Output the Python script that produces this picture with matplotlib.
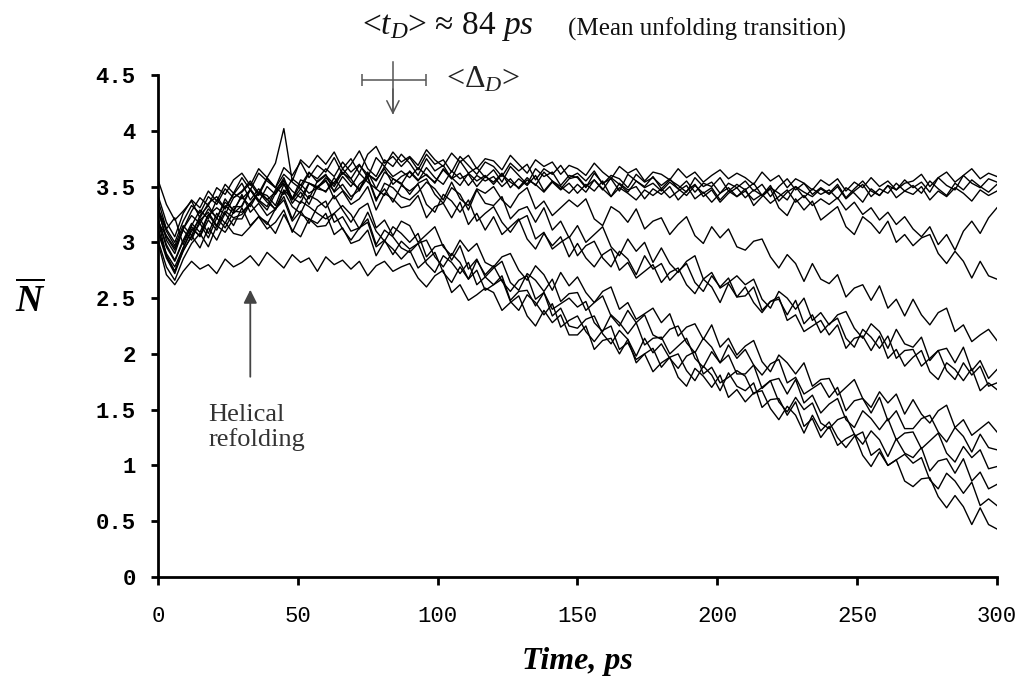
import numpy as np
import matplotlib
matplotlib.use('Agg')
import matplotlib.pyplot as plt

plt.rcParams['mathtext.fontset'] = 'custom'
plt.rcParams['mathtext.rm'] = 'Liberation Serif'
plt.rcParams['mathtext.it'] = 'Liberation Serif:italic'
plt.rcParams['mathtext.bf'] = 'Liberation Serif:bold'
plt.rcParams['mathtext.bfit'] = 'Liberation Serif:italic:bold'

# time axis, one point every 3 ps (101 points)
time_ps = np.arange(0, 301, 3)

# trajectories of N-bar
traj_a1 = [3.42, 3.18, 3.05, 3.26, 3.38, 3.31, 3.46, 3.37, 3.52, 3.44,
           3.58, 3.47, 3.62, 3.55, 3.49, 3.67, 3.60, 3.72, 3.58, 3.69,
           3.63, 3.76, 3.61, 3.70, 3.82, 3.66, 3.59, 3.74, 3.68, 3.79,
           3.71, 3.60, 3.75, 3.64, 3.69, 3.57, 3.73, 3.62, 3.67, 3.58,
           3.65, 3.54, 3.68, 3.60, 3.52, 3.66, 3.59, 3.63, 3.51, 3.60,
           3.58, 3.49, 3.62, 3.53, 3.57, 3.46, 3.61, 3.55, 3.50, 3.59,
           3.48, 3.56, 3.51, 3.45, 3.58, 3.50, 3.54, 3.44, 3.53, 3.49,
           3.55, 3.46, 3.52, 3.41, 3.50, 3.57, 3.47, 3.53, 3.43, 3.49,
           3.44, 3.52, 3.40, 3.48, 3.55, 3.46, 3.42, 3.51, 3.47, 3.56,
           3.49, 3.54, 3.45, 3.58, 3.51, 3.47, 3.60, 3.53, 3.49, 3.57, 3.54]
traj_a2 = [3.30, 3.02, 2.90, 3.12, 3.28, 3.40, 3.33, 3.49, 3.43, 3.56,
           3.62, 3.51, 3.66, 3.58, 3.71, 4.02, 3.55, 3.74, 3.67, 3.78,
           3.70, 3.81, 3.66, 3.75, 3.62, 3.79, 3.86, 3.71, 3.77, 3.68,
           3.76, 3.65, 3.79, 3.70, 3.74, 3.63, 3.77, 3.69, 3.61, 3.72,
           3.68, 3.59, 3.71, 3.64, 3.70, 3.56, 3.66, 3.61, 3.69, 3.58,
           3.62, 3.55, 3.64, 3.52, 3.60, 3.57, 3.49, 3.61, 3.54, 3.58,
           3.51, 3.57, 3.48, 3.55, 3.45, 3.53, 3.50, 3.58, 3.46, 3.52,
           3.47, 3.53, 3.42, 3.49, 3.44, 3.38, 3.50, 3.45, 3.41, 3.48,
           3.43, 3.50, 3.39, 3.46, 3.52, 3.41, 3.48, 3.44, 3.53, 3.46,
           3.51, 3.44, 3.55, 3.48, 3.42, 3.53, 3.47, 3.56, 3.50, 3.45, 3.52]
traj_a3 = [3.56, 3.34, 3.20, 3.28, 3.37, 3.22, 3.35, 3.41, 3.30, 3.44,
           3.39, 3.47, 3.36, 3.50, 3.43, 3.55, 3.46, 3.40, 3.53, 3.49,
           3.58, 3.50, 3.63, 3.54, 3.48, 3.61, 3.56, 3.66, 3.52, 3.59,
           3.63, 3.55, 3.67, 3.58, 3.52, 3.64, 3.57, 3.61, 3.50, 3.59,
           3.54, 3.62, 3.49, 3.57, 3.51, 3.60, 3.46, 3.55, 3.50, 3.44,
           3.52, 3.45, 3.56, 3.48, 3.41, 3.53, 3.47, 3.50, 3.39, 3.48,
           3.43, 3.50, 3.38, 3.46, 3.52, 3.41, 3.47, 3.36, 3.44, 3.49,
           3.40, 3.47, 3.42, 3.51, 3.37, 3.45, 3.50, 3.40, 3.48, 3.43,
           3.47, 3.39, 3.49, 3.44, 3.36, 3.48, 3.42, 3.51, 3.40, 3.46,
           3.43, 3.50, 3.38, 3.46, 3.41, 3.49, 3.44, 3.37, 3.47, 3.42, 3.46]
traj_a4 = [3.20, 2.88, 2.74, 2.95, 3.12, 3.06, 3.24, 3.31, 3.25, 3.40,
           3.45, 3.53, 3.42, 3.57, 3.49, 3.61, 3.54, 3.48, 3.62, 3.57,
           3.66, 3.59, 3.72, 3.63, 3.70, 3.58, 3.76, 3.68, 3.81, 3.72,
           3.77, 3.69, 3.83, 3.74, 3.68, 3.80, 3.72, 3.78, 3.66, 3.75,
           3.73, 3.65, 3.78, 3.70, 3.62, 3.74, 3.68, 3.72, 3.61, 3.69,
           3.66, 3.60, 3.71, 3.63, 3.57, 3.68, 3.62, 3.66, 3.55, 3.63,
           3.61, 3.56, 3.66, 3.58, 3.63, 3.54, 3.60, 3.65, 3.57, 3.62,
           3.58, 3.52, 3.63, 3.55, 3.60, 3.49, 3.57, 3.53, 3.47, 3.56,
           3.51, 3.57, 3.46, 3.54, 3.49, 3.58, 3.50, 3.55, 3.47, 3.53,
           3.55, 3.61, 3.50, 3.58, 3.63, 3.54, 3.60, 3.66, 3.57, 3.62, 3.59]
traj_b1 = [3.28, 3.05, 2.93, 3.12, 3.24, 3.17, 3.30, 3.22, 3.36, 3.29,
           3.41, 3.32, 3.45, 3.36, 3.30, 3.47, 3.39, 3.52, 3.44, 3.49,
           3.55, 3.46, 3.59, 3.50, 3.62, 3.54, 3.48, 3.63, 3.57, 3.52,
           3.64, 3.56, 3.61, 3.53, 3.66, 3.58, 3.51, 3.62, 3.55, 3.60,
           3.52, 3.61, 3.54, 3.49, 3.58, 3.51, 3.63, 3.55, 3.48, 3.57,
           3.59, 3.50, 3.56, 3.47, 3.58, 3.52, 3.45, 3.55, 3.49, 3.53,
           3.46, 3.54, 3.48, 3.42, 3.51, 3.44, 3.49, 3.38, 3.46, 3.41,
           3.48, 3.33, 3.41, 3.48, 3.31, 3.24, 3.39, 3.29, 3.37, 3.20,
           3.26, 3.32, 3.14, 3.07, 3.23, 3.17, 3.08, 3.19, 3.00, 3.07,
           2.97, 3.04, 3.07, 2.90, 2.81, 2.92, 2.83, 2.68, 2.83, 2.70, 2.67]
traj_b2 = [3.38, 3.12, 3.00, 3.19, 3.33, 3.26, 3.41, 3.34, 3.48, 3.40,
           3.46, 3.55, 3.44, 3.58, 3.49, 3.43, 3.57, 3.51, 3.63, 3.54,
           3.60, 3.52, 3.66, 3.57, 3.69, 3.61, 3.55, 3.68, 3.59, 3.64,
           3.58, 3.67, 3.60, 3.54, 3.65, 3.57, 3.62, 3.51, 3.60, 3.55,
           3.59, 3.50, 3.57, 3.48, 3.56, 3.52, 3.45, 3.54, 3.47, 3.53,
           3.44, 3.52, 3.46, 3.55, 3.41, 3.49, 3.44, 3.38, 3.47, 3.42,
           3.48, 3.40, 3.46, 3.51, 3.39, 3.45, 3.36, 3.44, 3.49, 3.41,
           3.46, 3.38, 3.43, 3.35, 3.41, 3.47, 3.36, 3.42, 3.33, 3.39,
           3.34, 3.40, 3.29, 3.36, 3.25, 3.31, 3.20, 3.27, 3.16, 3.23,
           3.12, 3.05, 3.14, 2.98, 3.07, 2.93, 3.10, 3.19, 3.08, 3.22, 3.31]
traj_c = [3.18, 3.06, 2.95, 3.11, 3.02, 3.20, 3.27, 3.15, 3.33, 3.26,
          3.33, 3.48, 3.38, 3.32, 3.47, 3.56, 3.38, 3.48, 3.39, 3.55,
          3.61, 3.45, 3.52, 3.41, 3.47, 3.58, 3.37, 3.53, 3.49, 3.41,
          3.38, 3.45, 3.54, 3.48, 3.38, 3.54, 3.39, 3.33, 3.48, 3.44,
          3.50, 3.38, 3.31, 3.43, 3.49, 3.30, 3.37, 3.24, 3.31, 3.38,
          3.32, 3.39, 3.21, 3.15, 3.32, 3.27, 3.18, 3.30, 3.12, 3.19,
          3.22, 3.07, 3.16, 3.23, 3.06, 2.99, 3.14, 3.04, 3.12, 2.96,
          2.93, 3.01, 3.03, 2.87, 2.77, 2.89, 2.81, 2.65, 2.81, 2.67,
          2.63, 2.71, 2.51, 2.59, 2.62, 2.48, 2.61, 2.41, 2.49, 2.34,
          2.49, 2.35, 2.26, 2.37, 2.41, 2.20, 2.26, 2.11, 2.17, 2.22, 2.12]
traj_d1 = [3.31, 3.12, 3.22, 2.98, 3.15, 3.29, 3.21, 3.38, 3.30, 3.43,
           3.53, 3.38, 3.48, 3.38, 3.45, 3.58, 3.39, 3.56, 3.53, 3.48,
           3.46, 3.54, 3.62, 3.57, 3.46, 3.63, 3.48, 3.42, 3.57, 3.53,
           3.43, 3.53, 3.57, 3.43, 3.35, 3.49, 3.43, 3.29, 3.47, 3.35,
           3.33, 3.41, 3.21, 3.29, 3.32, 3.18, 3.31, 3.11, 3.19, 3.04,
           3.15, 3.00, 3.07, 3.14, 2.96, 2.88, 3.03, 2.92, 3.00, 2.82,
           2.95, 2.81, 2.73, 2.83, 2.88, 2.67, 2.73, 2.59, 2.64, 2.70,
           2.62, 2.67, 2.49, 2.41, 2.56, 2.50, 2.40, 2.50, 2.30, 2.37,
           2.26, 2.35, 2.38, 2.23, 2.14, 2.27, 2.20, 2.05, 2.22, 2.09,
           2.06, 2.15, 1.94, 2.03, 2.05, 1.92, 2.06, 1.85, 1.94, 1.78, 1.86]
traj_d2 = [3.21, 2.98, 2.84, 3.02, 3.17, 3.09, 3.25, 3.14, 3.28, 3.22,
           3.25, 3.35, 3.45, 3.42, 3.33, 3.52, 3.40, 3.35, 3.53, 3.50,
           3.45, 3.58, 3.47, 3.38, 3.52, 3.59, 3.39, 3.48, 3.36, 3.51,
           3.46, 3.52, 3.34, 3.27, 3.43, 3.37, 3.27, 3.38, 3.19, 3.26,
           3.32, 3.18, 3.09, 3.20, 3.24, 3.03, 3.09, 2.94, 3.00, 3.05,
           2.88, 2.97, 3.01, 2.86, 2.78, 2.92, 2.85, 2.71, 2.88, 2.76,
           2.81, 2.66, 2.74, 2.81, 2.64, 2.56, 2.70, 2.60, 2.68, 2.51,
           2.52, 2.60, 2.39, 2.47, 2.49, 2.35, 2.48, 2.27, 2.35, 2.19,
           2.27, 2.32, 2.14, 2.06, 2.22, 2.15, 2.05, 2.16, 1.96, 2.03,
           2.04, 1.89, 1.96, 2.03, 1.85, 1.77, 1.92, 1.81, 1.89, 1.71, 1.74]
traj_d3 = [3.12, 2.90, 2.78, 2.95, 3.10, 3.21, 3.08, 3.26, 3.17, 3.32,
           3.32, 3.47, 3.37, 3.29, 3.44, 3.53, 3.35, 3.45, 3.34, 3.50,
           3.56, 3.39, 3.46, 3.34, 3.39, 3.50, 3.29, 3.44, 3.39, 3.31,
           3.33, 3.42, 3.22, 3.32, 3.35, 3.22, 3.36, 3.16, 3.26, 3.11,
           3.23, 3.07, 3.14, 3.21, 3.03, 2.94, 3.08, 2.97, 3.05, 2.87,
           2.99, 2.86, 2.78, 2.89, 2.94, 2.75, 2.82, 2.68, 2.74, 2.80,
           2.64, 2.73, 2.77, 2.62, 2.54, 2.67, 2.60, 2.46, 2.63, 2.51,
           2.60, 2.46, 2.37, 2.47, 2.51, 2.30, 2.35, 2.20, 2.25, 2.30,
           2.17, 2.26, 2.05, 2.14, 2.16, 2.03, 2.16, 1.96, 2.04, 1.89,
           1.97, 2.03, 1.84, 1.77, 1.92, 1.86, 1.76, 1.87, 1.67, 1.74, 1.68]
traj_e1 = [3.29, 3.10, 2.97, 3.15, 3.06, 3.24, 3.33, 3.21, 3.39, 3.28,
           3.27, 3.35, 3.44, 3.39, 3.29, 3.46, 3.32, 3.26, 3.42, 3.38,
           3.31, 3.42, 3.29, 3.18, 3.30, 3.35, 3.13, 3.20, 3.06, 3.19,
           3.15, 3.00, 3.07, 3.14, 2.96, 2.88, 3.02, 2.92, 2.99, 2.82,
           2.78, 2.87, 2.90, 2.75, 2.66, 2.79, 2.71, 2.57, 2.73, 2.61,
           2.69, 2.55, 2.46, 2.56, 2.60, 2.40, 2.46, 2.31, 2.36, 2.41,
           2.28, 2.36, 2.16, 2.24, 2.27, 2.13, 2.26, 2.06, 2.14, 1.99,
           2.07, 2.12, 1.93, 1.84, 1.99, 1.92, 1.82, 1.92, 1.71, 1.77,
           1.78, 1.63, 1.70, 1.77, 1.60, 1.52, 1.66, 1.56, 1.64, 1.46,
           1.59, 1.46, 1.38, 1.49, 1.54, 1.34, 1.41, 1.27, 1.33, 1.39, 1.30]
traj_e2 = [3.09, 2.86, 2.72, 2.93, 3.05, 3.17, 3.04, 3.22, 3.13, 3.27,
           3.43, 3.27, 3.35, 3.24, 3.30, 3.41, 3.21, 3.37, 3.32, 3.26,
           3.21, 3.26, 3.33, 3.25, 3.12, 3.27, 3.10, 3.01, 3.14, 3.08,
           3.00, 3.08, 2.87, 2.96, 2.98, 2.84, 2.97, 2.76, 2.85, 2.69,
           2.77, 2.83, 2.64, 2.57, 2.72, 2.66, 2.56, 2.67, 2.47, 2.54,
           2.55, 2.39, 2.46, 2.52, 2.34, 2.25, 2.39, 2.28, 2.35, 2.17,
           2.13, 2.22, 2.25, 2.10, 2.01, 2.14, 2.06, 1.92, 2.08, 1.96,
           2.04, 1.90, 1.81, 1.91, 1.95, 1.74, 1.79, 1.64, 1.69, 1.74,
           1.61, 1.70, 1.49, 1.58, 1.60, 1.47, 1.61, 1.40, 1.49, 1.33,
           1.33, 1.42, 1.45, 1.30, 1.21, 1.34, 1.26, 1.12, 1.28, 1.16, 1.14]
traj_e3 = [3.02, 2.78, 2.66, 2.85, 2.99, 3.08, 2.96, 3.15, 3.09, 3.21,
           3.21, 3.35, 3.24, 3.16, 3.30, 3.38, 3.19, 3.28, 3.17, 3.32,
           3.37, 3.18, 3.23, 3.10, 3.13, 3.21, 2.98, 3.11, 3.05, 2.95,
           2.91, 2.99, 3.02, 2.87, 2.78, 2.90, 2.82, 2.67, 2.84, 2.71,
           2.79, 2.65, 2.56, 2.66, 2.70, 2.49, 2.55, 2.40, 2.45, 2.50,
           2.42, 2.47, 2.28, 2.20, 2.35, 2.28, 2.18, 2.28, 2.08, 2.14,
           2.15, 2.00, 2.07, 2.14, 1.96, 1.88, 2.02, 1.92, 1.99, 1.82,
           1.82, 1.90, 1.69, 1.76, 1.78, 1.64, 1.77, 1.56, 1.63, 1.47,
           1.55, 1.60, 1.41, 1.34, 1.49, 1.42, 1.32, 1.42, 1.23, 1.29,
           1.30, 1.15, 1.22, 1.29, 1.11, 1.03, 1.17, 1.07, 1.14, 0.97, 0.99]
traj_e4 = [3.21, 2.96, 2.83, 3.01, 3.14, 3.05, 3.20, 3.11, 3.26, 3.15,
           3.31, 3.15, 3.23, 3.12, 3.18, 3.29, 3.09, 3.25, 3.21, 3.14,
           3.15, 3.26, 3.12, 3.02, 3.13, 3.18, 2.96, 3.02, 2.89, 3.01,
           2.94, 2.99, 2.81, 2.73, 2.88, 2.82, 2.72, 2.82, 2.62, 2.69,
           2.62, 2.70, 2.48, 2.56, 2.57, 2.43, 2.55, 2.34, 2.41, 2.25,
           2.23, 2.31, 2.34, 2.18, 2.09, 2.21, 2.13, 1.98, 2.14, 2.01,
           2.09, 1.96, 1.87, 1.98, 2.02, 1.82, 1.88, 1.74, 1.79, 1.85,
           1.80, 1.64, 1.70, 1.76, 1.57, 1.48, 1.61, 1.50, 1.56, 1.38,
           1.33, 1.41, 1.44, 1.28, 1.19, 1.31, 1.23, 1.08, 1.24, 1.11,
           1.07, 1.16, 0.95, 1.04, 1.06, 0.93, 1.06, 0.86, 0.94, 0.79, 0.83]
traj_e5 = [3.00, 2.71, 2.62, 2.74, 2.83, 2.76, 2.80, 2.72, 2.85, 2.78,
           2.82, 2.88, 2.79, 2.91, 2.84, 2.77, 2.89, 2.82, 2.86, 2.74,
           2.87, 2.80, 2.84, 2.76, 2.83, 2.70, 2.79, 2.83, 2.74, 2.78,
           2.81, 2.68, 2.60, 2.70, 2.75, 2.55, 2.62, 2.48, 2.53, 2.59,
           2.55, 2.39, 2.46, 2.52, 2.34, 2.25, 2.39, 2.28, 2.35, 2.17,
           2.17, 2.25, 2.04, 2.12, 2.14, 2.00, 2.13, 1.92, 2.00, 1.84,
           1.92, 1.97, 1.79, 1.71, 1.87, 1.80, 1.70, 1.81, 1.61, 1.68,
           1.57, 1.65, 1.67, 1.51, 1.41, 1.53, 1.45, 1.29, 1.45, 1.31,
           1.39, 1.25, 1.16, 1.26, 1.30, 1.09, 1.15, 1.00, 1.05, 1.10,
           1.02, 1.07, 0.87, 0.79, 0.93, 0.86, 0.75, 0.85, 0.64, 0.70, 0.64]
traj_e6 = [3.12, 2.88, 2.74, 2.92, 3.06, 2.95, 3.13, 3.02, 3.18, 3.08,
           3.06, 3.14, 3.23, 3.18, 3.08, 3.25, 3.11, 3.05, 3.21, 3.17,
           3.26, 3.07, 3.13, 2.99, 3.02, 3.11, 2.88, 3.01, 2.94, 2.85,
           2.93, 2.77, 2.84, 2.91, 2.73, 2.64, 2.78, 2.67, 2.75, 2.57,
           2.62, 2.67, 2.47, 2.39, 2.53, 2.46, 2.35, 2.45, 2.24, 2.30,
           2.34, 2.20, 2.11, 2.21, 2.25, 2.04, 2.10, 1.95, 2.00, 2.05,
           1.88, 1.97, 2.00, 1.85, 1.76, 1.89, 1.81, 1.67, 1.83, 1.71,
           1.67, 1.74, 1.52, 1.59, 1.60, 1.45, 1.57, 1.35, 1.42, 1.25,
           1.35, 1.18, 1.24, 1.28, 1.09, 0.99, 1.12, 1.00, 1.05, 0.86,
           0.81, 0.88, 0.89, 0.72, 0.62, 0.73, 0.63, 0.47, 0.62, 0.47, 0.43]

trajectories = [traj_a1, traj_a2, traj_a3, traj_a4, traj_b1, traj_b2, traj_c,
                traj_d1, traj_d2, traj_d3, traj_e1, traj_e2, traj_e3, traj_e4, traj_e5, traj_e6]

x_ticks = [0, 50, 100, 150, 200, 250, 300]
y_ticks = [0, 0.5, 1, 1.5, 2, 2.5, 3, 3.5, 4, 4.5]
y_tick_labels = ['0', '0.5', '1', '1.5', '2', '2.5', '3', '3.5', '4', '4.5']

mean_unfold = 84      # ps
unfold_spread = (73, 96)

fig = plt.figure(figsize=(10.28, 6.89), dpi=100)
ax = fig.add_axes([0.1537, 0.1626, 0.8161, 0.7285])

for tr in trajectories:
    ax.plot(time_ps, tr, color='black', lw=1.0)

ax.set_xlim(0, 300)
ax.set_ylim(0, 4.5)
ax.spines['top'].set_visible(False)
ax.spines['right'].set_visible(False)
ax.spines['left'].set_linewidth(2)
ax.spines['bottom'].set_linewidth(2)

ax.set_xticks(x_ticks)
ax.set_xticklabels([str(v) for v in x_ticks], fontfamily='Liberation Mono', fontsize=16)
ax.set_yticks(y_ticks)
ax.set_yticklabels(y_tick_labels, fontfamily='Liberation Mono', fontsize=16, fontweight='bold')
ax.tick_params(axis='x', length=6, width=2, pad=15)
ax.tick_params(axis='y', length=5, width=2, pad=11)

# axis labels
ax.set_xlabel('Time, ps', fontfamily='Liberation Serif', fontsize=23, fontweight='bold',
              fontstyle='italic', labelpad=14)
fig.text(0.029, 0.563, r'$\overline{\mathbfit{N}}$', fontsize=27, ha='center', va='center')

# mean unfolding marker above the curves
ax.plot([mean_unfold, mean_unfold], [4.62, 4.16], color='#555555', lw=1.1, clip_on=False)
ax.annotate('', xy=(mean_unfold, 4.12), xytext=(mean_unfold, 4.4),
            arrowprops=dict(arrowstyle='->', color='#555555', lw=1.1, mutation_scale=22),
            annotation_clip=False)
ax.errorbar([mean_unfold], [4.455], xerr=[[mean_unfold - unfold_spread[0]], [unfold_spread[1] - mean_unfold]],
            fmt='none', ecolor='#555555', elinewidth=1.1, capsize=4, capthick=1.1, clip_on=False)
ax.text(103, 4.455, r'<$\Delta_D$>', fontfamily='Liberation Serif', fontsize=23,
        ha='left', va='center', color='#222222')
fig.text(0.352, 0.962, r'<$t_D$> ≈ 84 $ps$', fontfamily='Liberation Serif', fontsize=24,
         ha='left', va='center', color='#111111')
fig.text(0.553, 0.958, '(Mean unfolding transition)', fontfamily='Liberation Serif', fontsize=18,
         ha='left', va='center', color='#111111')

# helical refolding arrow
ax.annotate('', xy=(33, 2.6), xytext=(33, 1.77),
            arrowprops=dict(arrowstyle='-|>', color='#444444', lw=1.3, mutation_scale=20))
ax.text(18, 1.55, 'Helical\nrefolding', fontfamily='Liberation Serif', fontsize=19,
        ha='left', va='top', color='#333333', linespacing=1.1)

plt.savefig('out.png', dpi=100)
